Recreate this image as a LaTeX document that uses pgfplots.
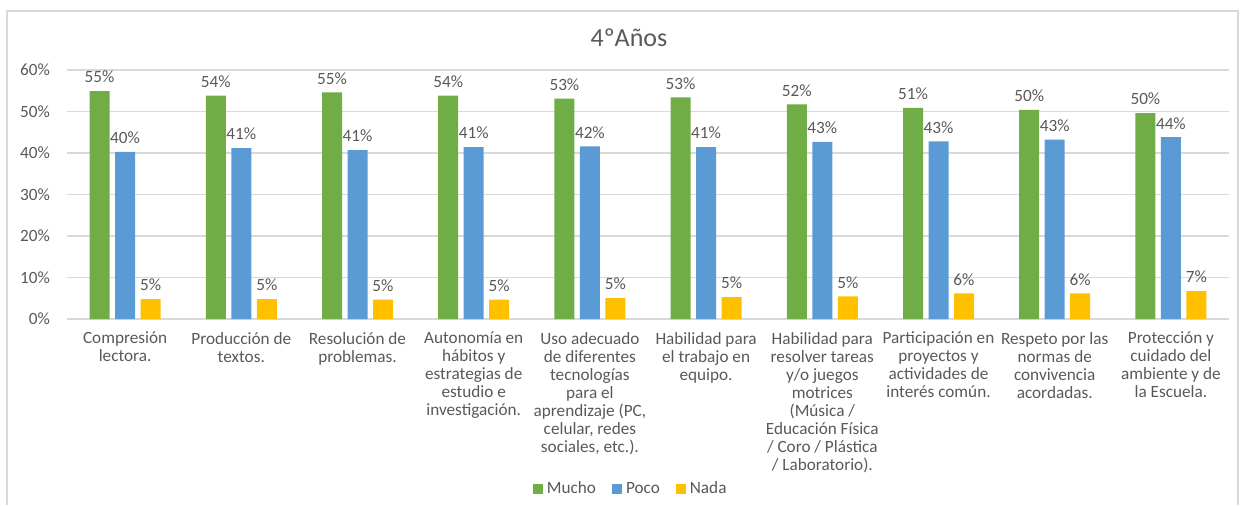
\documentclass[border=0pt]{standalone}
\usepackage{fontspec}
\setmainfont{Carlito}
\usepackage{pgfplots}
\pgfplotsset{compat=1.18}
\definecolor{cgreen}{HTML}{70AD47}
\definecolor{cblue}{HTML}{5B9BD5}
\definecolor{cyellow}{HTML}{FFC000}
\definecolor{cgrid}{HTML}{D9D9D9}
\definecolor{ctext}{HTML}{595959}
\begin{document}
\begin{tikzpicture}
\useasboundingbox (-33.5pt,-93pt) rectangle (586.5pt,159.5pt);
\draw[cgrid,line width=0.8pt] (-30pt,-93pt) -- (-30pt,154pt) -- (585.5pt,154pt) -- (585.5pt,-93pt);
\begin{axis}[
  scale only axis, width=581pt, height=124.5pt,
  /pgf/number format/assume math mode=true,
  font=\fontsize{8.6}{9}\selectfont,
  ybar=2.75pt, bar width=10pt,
  xmin=-0.5, xmax=9.5, ymin=0, ymax=60,
  ytick={0,10,20,30,40,50,60},
  yticklabel={\pgfmathprintnumber[fixed,precision=0]{\tick}\%},
  yticklabel style={xshift=-5pt, text=ctext},
  xtick={0,...,9},
  xticklabels={
    {Compresión\\lectora.},
    {Producción de\\textos.},
    {Resolución de\\problemas.},
    {Autonomía en\\hábitos y\\estrategias de\\estudio e\\investigación.},
    {Uso adecuado\\de diferentes\\tecnologías\\para el\\aprendizaje (PC,\\celular, redes\\sociales, etc.).},
    {Habilidad para\\el trabajo en\\equipo.},
    {Habilidad para\\resolver tareas\\y/o juegos\\motrices\\(Música /\\Educación Física\\/ Coro / Plástica\\/ Laboratorio).},
    {Participación en\\proyectos y\\actividades de\\interés común.},
    {Respeto por las\\normas de\\convivencia\\acordadas.},
    {Protección y\\cuidado del\\ambiente y de\\la Escuela.}},
  xticklabel style={align=center, text=ctext, anchor=north, yshift=-3pt},
  major tick length=0pt,
  ymajorgrids, grid style={cgrid, line width=0.8pt},
  axis x line*=bottom, axis y line*=left,
  x axis line style={cgrid, line width=0.8pt},
  y axis line style={draw=none},
  enlarge x limits=false,
  nodes near coords={\pgfmathprintnumber[fixed,precision=0]{\pgfplotspointmeta}\%},
  nodes near coords style={text=ctext, yshift=0.5pt},
  title={4ºAños},
  title style={at={(0.4836,1.124)}, anchor=center, yshift=-5.5pt, font=\fontsize{13}{15}\selectfont, text=ctext},
  legend style={at={(0.486,-0.683)}, anchor=center, draw=none, legend columns=-1,
    font=\fontsize{8.6}{9}\selectfont, text=ctext,
    /tikz/every even column/.append style={column sep=6pt}},
  legend image code/.code={\fill[#1] (0pt,-2.5pt) rectangle (5pt,2.5pt);},
]
\addplot[fill=cgreen, draw=none] coordinates {(0,54.9) (1,53.8) (2,54.6) (3,53.8) (4,53.1) (5,53.4) (6,51.7) (7,50.9) (8,50.4) (9,49.6)};
\addplot[fill=cblue, draw=none] coordinates {(0,40.3) (1,41.2) (2,40.7) (3,41.4) (4,41.6) (5,41.4) (6,42.7) (7,42.8) (8,43.2) (9,43.8)};
\addplot[fill=cyellow, draw=none] coordinates {(0,4.8) (1,4.8) (2,4.65) (3,4.65) (4,5.05) (5,5.3) (6,5.45) (7,6.2) (8,6.2) (9,6.7)};
\legend{Mucho,Poco,Nada}
\end{axis}
\end{tikzpicture}
\end{document}
